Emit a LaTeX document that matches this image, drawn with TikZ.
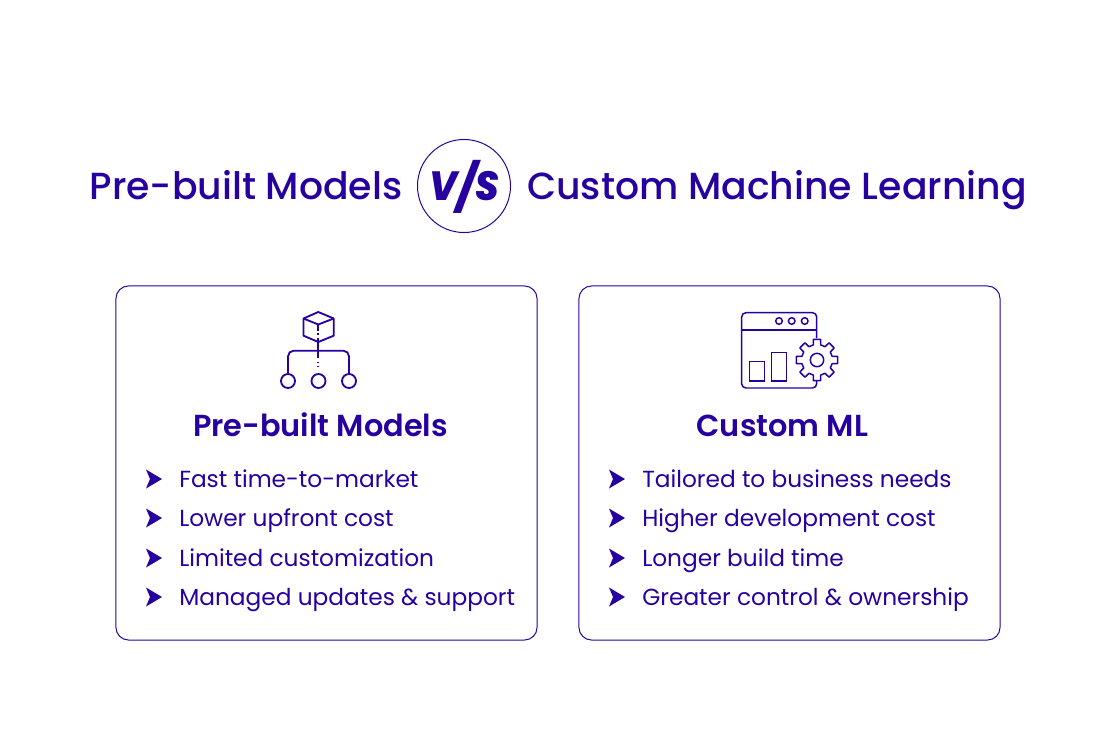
\documentclass[tikz,border=0pt]{standalone}
\usepackage{xcolor}
\usepackage{fontspec}
\setmainfont{Poppins}
\newfontfamily\titlefont{Poppins Medium}
\newfontfamily\headfont{Poppins SemiBold}
\newfontfamily\versusfont[FakeStretch=0.92]{Poppins ExtraBold Italic}
\usetikzlibrary{positioning,calc}
\definecolor{brand}{HTML}{2700A0}
\tikzset{
  panel/.style={draw=brand, line width=0.7pt, rounded corners=9pt, minimum width=421*0.7113pt, minimum height=354*0.7113pt},
  titletext/.style={text=brand, inner sep=0pt, anchor=base, font=\titlefont\fontsize{26.85}{30}\selectfont},
  headtext/.style={text=brand, inner sep=0pt, anchor=base, font=\headfont\fontsize{21.6}{25}\selectfont},
  itemtext/.style={text=brand, inner sep=0pt, anchor=base west, font=\fontsize{16.55}{20}\selectfont},
  versustext/.style={text=brand, inner sep=0pt, anchor=base, font=\versusfont\fontsize{29}{30}\selectfont},
  iconline/.style={draw=brand, line width=1.05pt},
  treeline/.style={draw=brand, line width=1.3pt},
  bulletmark/.pic={\fill [brand] (-8,-9.5) -- (8,0) -- (-8,9.5) -- (-4,0) -- cycle;}
}
\begin{document}
\begin{tikzpicture}[x=0.025cm, y=-0.025cm]
    \useasboundingbox (0,0) rectangle (1116,742);

    \node [titletext] (lefttitle) at (246,199) {Pre-built Models};
    \node [titletext] (righttitle) at (777,199) {Custom Machine Learning};
    \node [circle, draw=brand, line width=0.7pt, minimum size=93*0.7113pt, inner sep=0pt] (versus) at (464,186) {};
    \node [versustext] (versuslabel) at (464.5,200) {V\raisebox{-0.1em}{\fontsize{33}{30}\selectfont /}S};

    \node [panel] (leftpanel) at (326.5,463) {};
    \node [panel] (rightpanel) at (789.5,463) {};

    \node [headtext] (lefthead) at (320.5,436) {Pre-built Models};
    \node [headtext] (righthead) at (782.3,436) {Custom ML};

    % Left list
    \node [itemtext] (left1) at (179,487) {Fast time-to-market};
    \node [itemtext] (left2) at (179,526) {Lower upfront cost};
    \node [itemtext] (left3) at (179,566) {Limited customization};
    \node [itemtext] (left4) at (179,605) {Managed updates \& support};
    % Right list
    \node [itemtext] (right1) at (642,487) {Tailored to business needs};
    \node [itemtext] (right2) at (642,526) {Higher development cost};
    \node [itemtext] (right3) at (642,566) {Longer build time};
    \node [itemtext] (right4) at (642,605) {Greater control \& ownership};

    \foreach \y in {479,518,558,597} {
        \pic at (154,\y) {bulletmark};
        \pic at (617,\y) {bulletmark};
    }

    % Cube icon
    \draw [treeline, line join=round] (318.3,312) -- (333.7,318.5) -- (333.7,335.7) -- (318.3,342) -- (303.5,335.7) -- (303.5,318.5) -- cycle;
    \draw [treeline] (303.5,318.5) -- (318.3,324.5) -- (333.7,318.5);
    \draw [treeline] (318.3,324.5) -- (318.3,331);
    \draw [treeline] (318.3,333) -- (318.3,334.5);
    \draw [treeline] (318.3,338) -- (318.3,358);
    \draw [treeline] (318.3,361.5) -- (318.3,363);
    \draw [treeline] (318.3,365.5) -- (318.3,367);
    \draw [treeline, rounded corners=4pt] (288,374) -- (288,350.7) -- (349,350.7) -- (349,374);
    \foreach \x in {288,318.5,349}
        \draw [treeline] (\x,381) circle [radius=7];

    % Window and gear icon
    \draw [iconline, rounded corners=3pt] (816.7,338) -- (816.7,312.7) -- (741.7,312.7) -- (741.7,388) -- (816.7,388) -- (816.7,381);
    \draw [iconline] (741.7,330) -- (816.7,330);
    \foreach \x in {779,791.7,804.7}
        \draw [iconline] (\x,321) circle [radius=3.3];
    \draw [iconline] (749.3,361.3) rectangle (764.7,381);
    \draw [iconline] (771.7,352.3) rectangle (786.7,381);
    \draw [iconline, line join=round, shift={(817,360)}] (-14:15.5)
        \foreach \a in {0,45,...,315} { -- ({\a-14}:15.5) -- ({\a-10}:21) -- ({\a+10}:21) -- ({\a+14}:15.5) } -- cycle;
    \draw [iconline] (817,360) circle [radius=6.7];
\end{tikzpicture}
\end{document}
